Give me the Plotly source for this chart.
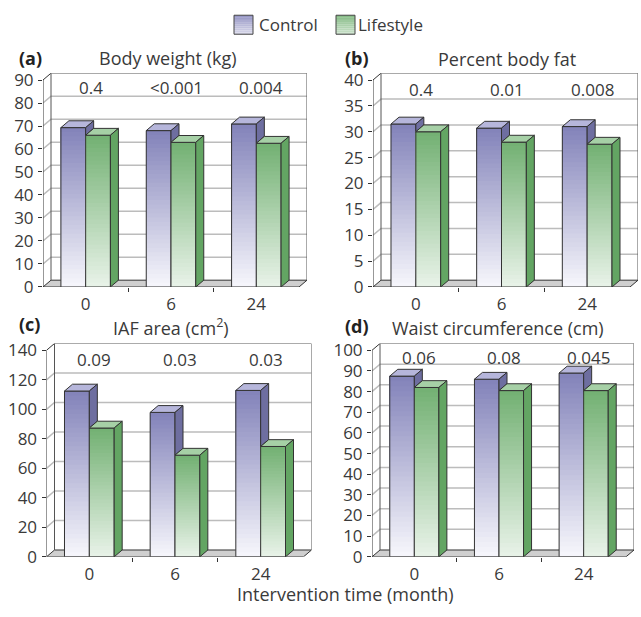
import plotly.graph_objects as go

# ---------------- data ----------------
categories = ["0", "6", "24"]
panel_letters = ["(a)", "(b)", "(c)", "(d)"]
panel_titles = ["Body weight (kg)", "Percent body fat",
                "IAF area (cm<sup>2</sup>)", "Waist circumference (cm)"]
control_weight = [69.3, 68.0, 70.9]
lifestyle_weight = [66.0, 62.9, 62.5]
control_fat = [31.5, 30.7, 31.0]
lifestyle_fat = [30.0, 28.0, 27.6]
control_iaf = [112.4, 97.9, 112.8]
lifestyle_iaf = [87.3, 68.9, 74.8]
control_waist = [87.5, 86.0, 89.0]
lifestyle_waist = [82.0, 80.5, 80.5]
p_weight = ["0.4", "<0.001", "0.004"]
p_fat = ["0.4", "0.01", "0.008"]
p_iaf = ["0.09", "0.03", "0.03"]
p_waist = ["0.06", "0.08", "0.045"]
y_max = [90, 40, 140, 100]
y_step = [10, 5, 20, 10]
series_names = ["Control", "Lifestyle"]
x_title = "Intervention time (month)"

controls = [control_weight, control_fat, control_iaf, control_waist]
lifestyles = [lifestyle_weight, lifestyle_fat, lifestyle_iaf, lifestyle_waist]
pvals = [p_weight, p_fat, p_iaf, p_waist]

# ---------------- layout geometry (pixels) ----------------
WF, HF = 641, 617
DX, DY = 8, 7          # 3-D depth offset in px
BW = 0.29              # bar width in category units
NSEG = 36
geo = [
    dict(fl=43, fr=299, y0=289.5, yt=77, lx=17, ly=54, tx=168, ty=54, py=85),
    dict(fl=373, fr=630, y0=289.5, yt=77, lx=343, ly=54, tx=507, ty=55, py=87),
    dict(fl=46.5, fr=303.5, y0=566.5, yt=354.5, lx=17, ly=327, tx=171, ty=331, py=364),
    dict(fl=372, fr=626, y0=566.5, yt=354.5, lx=343, ly=330, tx=498, ty=332, py=362),
]

TXT = "#3a3a3a"
DARK = "#333333"
GRID = "#bcbcbc"
FONT = "Open Sans"

ctrl_top_rgb = (130, 130, 185)
ctrl_bot_rgb = (247, 247, 252)
life_top_rgb = (114, 176, 114)
life_bot_rgb = (233, 243, 233)
ctrl_side = "rgb(110,110,160)"
life_side = "rgb(99,165,99)"
ctrl_cap = "rgb(182,182,219)"
life_cap = "rgb(166,208,166)"


def mix(c_top, c_bot, t):
    # t=0 bottom, t=1 top
    return "rgb(%d,%d,%d)" % tuple(round(b + (a - b) * t) for a, b in zip(c_top, c_bot))


fig = go.Figure()
shapes = []
annotations = []


def px2x(px):
    return px / WF


def py2y(py):
    return 1 - py / HF


for i in range(4):
    g = geo[i]
    sfx = "" if i == 0 else str(i + 1)
    xa, ya = "x" + sfx, "y" + sfx
    catpx = (g["fr"] - g["fl"]) / 3
    dxu = DX / catpx
    ymax = y_max[i]
    pxu = (g["y0"] - g["yt"]) / ymax
    dyu = DY / pxu
    x0, x1 = -0.5, 2.5

    layout_x = dict(domain=[px2x(g["fl"]), px2x(g["fr"] + DX)], range=[x0, x1 + dxu],
                    anchor=ya, tickvals=[0, 1, 2], ticktext=categories, ticks="",
                    showgrid=False, zeroline=False, showline=False,
                    tickfont=dict(family=FONT, size=17, color=TXT), ticklabelstandoff=5,
                    minor=dict(tickvals=[0.5, 1.5], ticks="outside", ticklen=4,
                               tickcolor=DARK, tickwidth=1, showgrid=False))
    tv = list(range(0, ymax + 1, y_step[i]))
    layout_y = dict(domain=[py2y(g["y0"]), py2y(g["yt"] - DY)], range=[0, ymax + dyu],
                    anchor=xa, tickvals=tv, ticks="outside", ticklen=4, tickcolor=DARK,
                    tickwidth=1, showgrid=False, zeroline=False, showline=False,
                    tickfont=dict(family=FONT, size=17, color=TXT), ticklabelstandoff=1)
    fig.layout["xaxis" + sfx] = layout_x
    fig.layout["yaxis" + sfx] = layout_y

    # gridlines on side & back wall
    for t in tv[1:-1]:
        shapes.append(dict(type="path", xref=xa, yref=ya, layer="below",
                           path=f"M {x0},{t} L {x0+dxu},{t+dyu} L {x1+dxu},{t+dyu}",
                           line=dict(color=GRID, width=1.5)))
    # floor
    shapes.append(dict(type="path", xref=xa, yref=ya, layer="below",
                       path=f"M {x0},0 L {x1},0 L {x1+dxu},{dyu} L {x0+dxu},{dyu} Z",
                       fillcolor="#cfcfcf", line=dict(color=DARK, width=1)))
    # back wall outline
    shapes.append(dict(type="path", xref=xa, yref=ya, layer="below",
                       path=f"M {x0+dxu},{dyu} L {x0+dxu},{ymax+dyu} L {x1+dxu},{ymax+dyu} L {x1+dxu},{dyu}",
                       line=dict(color="#555555", width=1)))
    # front axis
    shapes.append(dict(type="path", xref=xa, yref=ya, layer="below",
                       path=f"M {x0},0 L {x0},{ymax} L {x0+dxu},{ymax+dyu}",
                       line=dict(color=DARK, width=1)))

    cvals, lvals = controls[i], lifestyles[i]
    xs = [0, 1, 2]
    # gradient front faces
    for vals, off, ctop, cbot in ((cvals, -BW, ctrl_top_rgb, ctrl_bot_rgb),
                                  (lvals, 0.0, life_top_rgb, life_bot_rgb)):
        for k in range(NSEG):
            fig.add_trace(go.Bar(
                x=xs, base=[v * k / NSEG for v in vals], y=[v * (NSEG - k) / NSEG for v in vals],
                width=BW, offset=off, xaxis=xa, yaxis=ya, showlegend=False, hoverinfo="skip",
                marker=dict(color=mix(ctop, cbot, (k + 0.5) / NSEG), line=dict(width=0))))
        fig.add_trace(go.Bar(
            x=xs, y=vals, width=BW, offset=off, xaxis=xa, yaxis=ya, showlegend=False,
            hoverinfo="skip", marker=dict(color="rgba(0,0,0,0)", line=dict(color=DARK, width=1))))

    # 3-D faces
    def face(px, py, color):
        fig.add_trace(go.Scatter(x=px + [px[0]], y=py + [py[0]], mode="lines", fill="toself",
                                 fillcolor=color, line=dict(color=DARK, width=1),
                                 xaxis=xa, yaxis=ya, showlegend=False, hoverinfo="skip"))

    for j in range(3):
        vc, vl = cvals[j], lvals[j]
        xc0, xc1, xl1 = j - BW, j, j + BW
        face([xc0, xc1, xc1 + dxu, xc0 + dxu], [vc, vc, vc + dyu, vc + dyu], ctrl_cap)
        if vc > vl:
            face([xc1, xc1, xc1 + dxu, xc1 + dxu], [vl, vc, vc + dyu, vl + dyu], ctrl_side)
        face([xc1, xl1, xl1 + dxu, xc1 + dxu], [vl, vl, vl + dyu, vl + dyu], life_cap)
        face([xl1, xl1, xl1 + dxu, xl1 + dxu], [0, vl, vl + dyu, dyu], life_side)

        annotations.append(dict(x=j, y=py2y(g["py"]), xref=xa, yref="paper", xshift=5,
                                xanchor="center", yanchor="middle",
                                text=pvals[i][j], showarrow=False,
                                font=dict(family=FONT, size=17, color=TXT)))

    annotations.append(dict(x=px2x(g["lx"]), y=py2y(g["ly"]), xref="paper", yref="paper",
                            xanchor="left", yanchor="middle",
                            text="<b>" + panel_letters[i] + "</b>",
                            showarrow=False, font=dict(family=FONT, size=18, color="#222222")))
    annotations.append(dict(x=px2x(g["tx"]), y=py2y(g["ty"]), xref="paper", yref="paper",
                            xanchor="center", yanchor="middle",
                            text=panel_titles[i], showarrow=False,
                            font=dict(family=FONT, size=18, color=TXT)))

# x axis title
annotations.append(dict(x=px2x(345), y=py2y(605), xref="paper", yref="paper", text=x_title,
                        xanchor="center", yanchor="middle",
                        showarrow=False, font=dict(family=FONT, size=18, color=TXT)))

# legend (manual)
leg = [(234, ctrl_top_rgb, ctrl_bot_rgb, 257), (336, life_top_rgb, life_bot_rgb, 356)]
for (lx, ctop, cbot, tx), name in zip(leg, series_names):
    nb = 10
    top, bot = 10.5, 30
    for b in range(nb):
        ya0 = bot - (bot - top) * b / nb
        ya1 = bot - (bot - top) * (b + 1) / nb
        shapes.append(dict(type="rect", xref="paper", yref="paper",
                           x0=px2x(lx), x1=px2x(lx + 19), y0=py2y(ya0), y1=py2y(ya1),
                           fillcolor=mix(ctop, cbot, 0.25 + 0.6 * (b + 0.5) / nb), line=dict(width=0)))
    shapes.append(dict(type="rect", xref="paper", yref="paper",
                       x0=px2x(lx), x1=px2x(lx + 19), y0=py2y(bot), y1=py2y(top),
                       line=dict(color="#444444", width=1)))
    annotations.append(dict(x=px2x(tx), y=py2y(20), xref="paper", yref="paper",
                            xanchor="left", yanchor="middle",
                            text=name, showarrow=False, font=dict(family=FONT, size=17, color=TXT)))

fig.update_layout(width=WF, height=HF, autosize=False, margin=dict(l=0, r=0, t=0, b=0),
                  paper_bgcolor="white", plot_bgcolor="white", barmode="overlay",
                  shapes=shapes, annotations=annotations, showlegend=False)

fig.write_html("out.html")
